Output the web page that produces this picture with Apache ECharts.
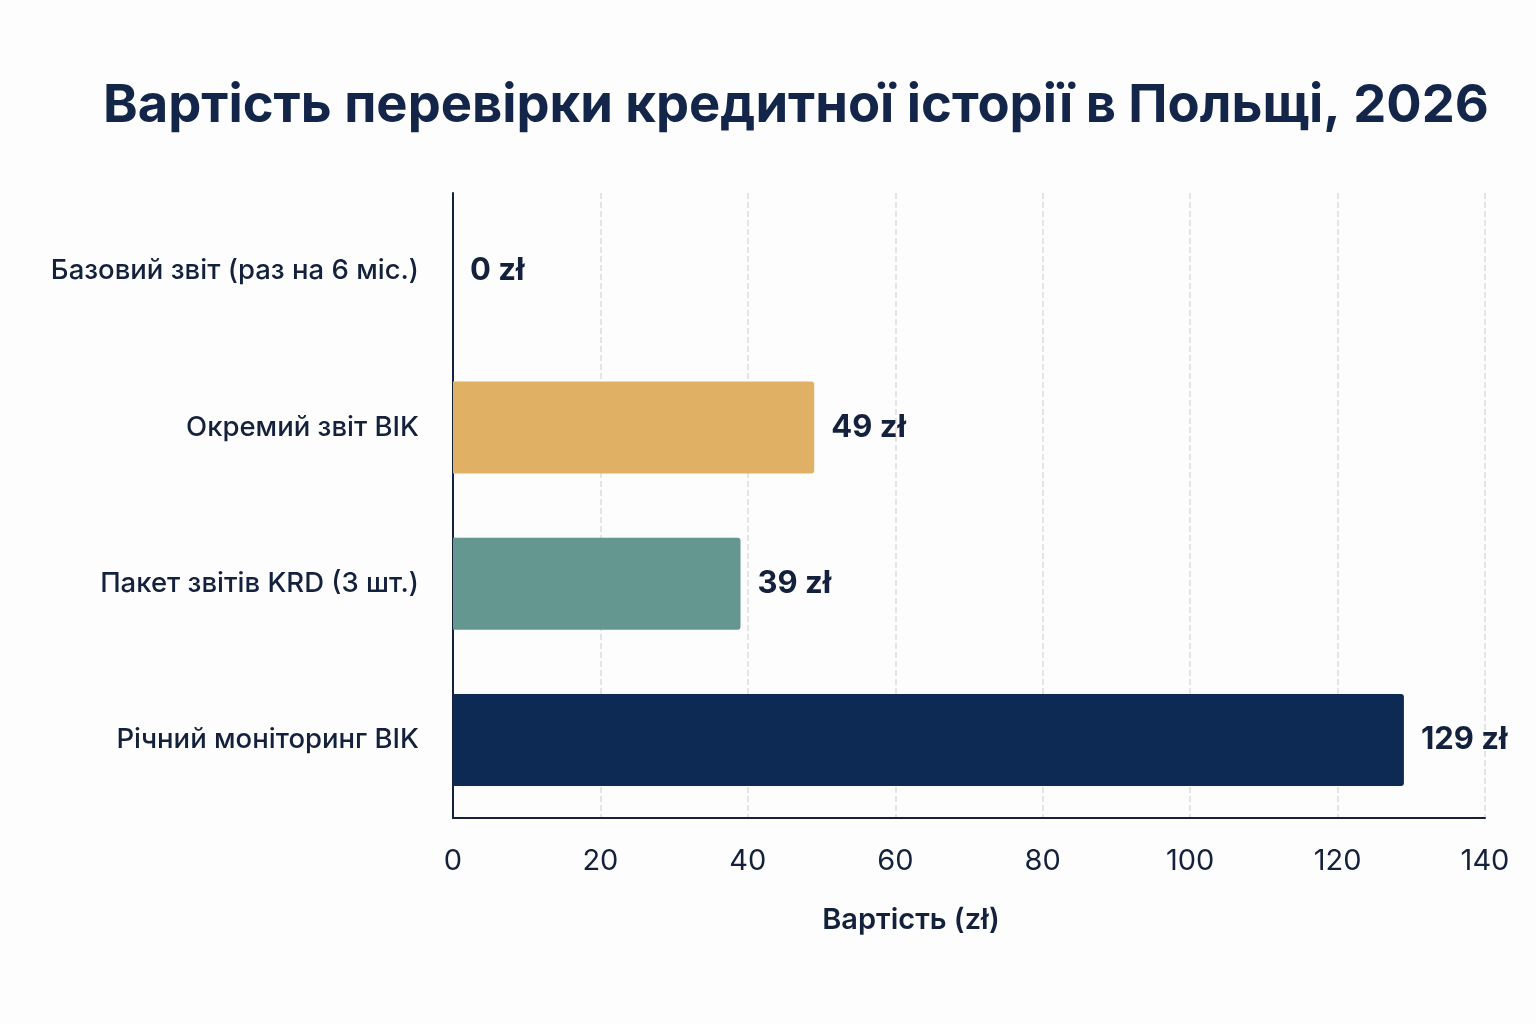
<!DOCTYPE html>
<html lang="uk">
<head>
    <meta charset="UTF-8">
    <title>Вартість перевірки кредитної історії</title>
    <style>
        html, body { margin: 0; padding: 0; background: #fdfdfd; }
        #main { width: 1536px; height: 1024px; }
    </style>
</head>
<body>
    <div id="main"></div>
    <script src="https://cdn.jsdelivr.net/npm/echarts@6/dist/echarts.min.js"></script>
    <script>
        // дані
        var categories = ['Базовий звіт (раз на 6 міс.)', 'Окремий звіт BIK', 'Пакет звітів KRD (3 шт.)', 'Річний моніторинг BIK'];
        var values = [0, 49, 39, 129];
        var barColors = ['#0d2a54', '#e0b064', '#64978f', '#0d2a54'];
        var xTicks = [0, 20, 40, 60, 80, 100, 120, 140];

        var navy = '#14213d';
        var myChart = echarts.init(document.getElementById('main'));

        var seriesData = [];
        for (var i = 0; i < values.length; i++) {
            seriesData.push({ value: values[i], itemStyle: { color: barColors[i] } });
        }

        var option = {
            backgroundColor: '#fdfdfd',
            textStyle: { fontFamily: 'Inter, "Noto Sans", sans-serif' },
            title: {
                text: 'Вартість перевірки кредитної історії в Польщі, 2026',
                left: 98,
                top: 75,
                textStyle: { fontSize: 52.5, fontWeight: 'bold', color: '#13264a' }
            },
            grid: { left: 453, right: 51, top: 193, bottom: 206, containLabel: false },
            xAxis: {
                type: 'value',
                min: xTicks[0],
                max: xTicks[xTicks.length - 1],
                interval: 20,
                name: 'Вартість (zł)',
                nameLocation: 'middle',
                nameGap: 88,
                nameTextStyle: { fontSize: 29, fontWeight: 600, color: navy, padding: [0, 116, 0, 0] },
                axisLine: { show: true, lineStyle: { color: navy, width: 2 } },
                axisTick: { show: false },
                axisLabel: { fontSize: 29, color: navy, margin: 29 },
                splitLine: { show: true, lineStyle: { type: 'dashed', color: '#dcdcdc', width: 1.5 } }
            },
            yAxis: {
                type: 'category',
                data: categories,
                inverse: true,
                axisLine: { show: true, lineStyle: { color: navy, width: 2 } },
                axisTick: { show: false },
                axisLabel: { fontSize: 27.5, fontWeight: 500, color: navy, margin: 34 }
            },
            series: [{
                type: 'bar',
                data: seriesData,
                barWidth: 92,
                itemStyle: { borderRadius: [0, 3, 3, 0] },
                label: {
                    show: true,
                    position: 'right',
                    distance: 17,
                    formatter: function (p) { return p.value + ' zł'; },
                    fontSize: 31,
                    fontWeight: 'bold',
                    color: navy
                }
            }]
        };
        myChart.setOption(option);
    </script>
</body>
</html>
